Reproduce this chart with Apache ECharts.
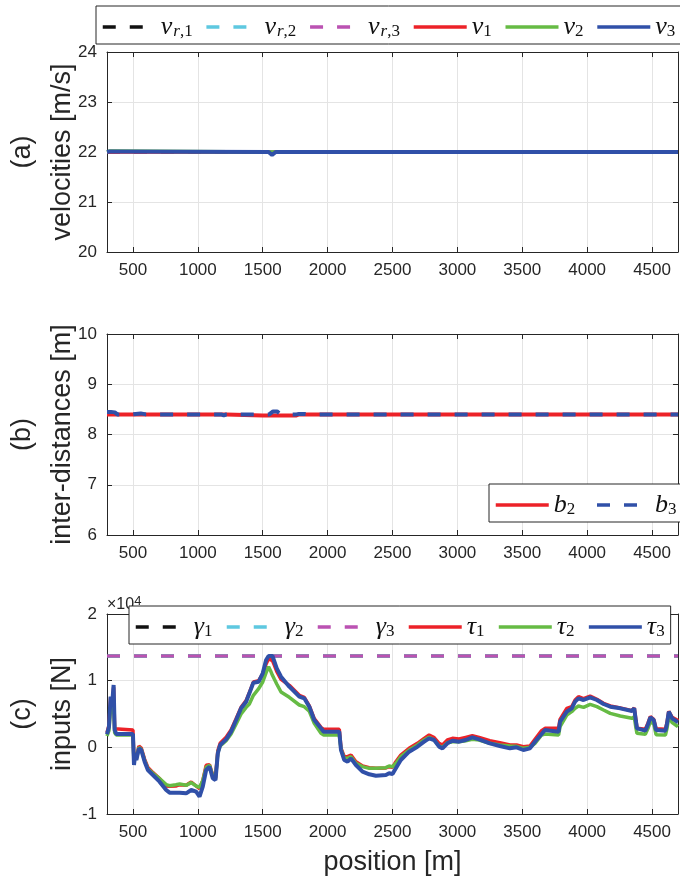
<!DOCTYPE html>
<html>
<head>
<meta charset="utf-8">
<script src="https://cdn.jsdelivr.net/npm/echarts@6.0.0/dist/echarts.min.js"></script>
<style>
  html, body { margin: 0; padding: 0; background: #fff; }
  #chart { width: 680px; height: 887px; }
</style>
</head>
<body>
<div id="chart"></div>
<script>
// ---- shared x range (position along the road, m) ----
const X_RANGE = [300, 4700];
const X_STEP = 500;

// ---- (a) velocities [m/s] ----
const posA = [300, 318, 330, 342, 355, 1545, 1560, 1572, 1585, 1600, 4700];
const vRef = [22, 22, 22];
const v1 = [22.0, 22.0, 22.01, 22.0, 22.0, 22.0, 21.99, 21.98, 21.99, 22.0, 22.0];
const v2 = [22.0, 22.02, 21.99, 22.02, 22.0, 22.0, 22.02, 22.0, 22.01, 22.0, 22.0];
const v3 = [22.0, 22.01, 21.99, 22.01, 22.0, 22.0, 21.97, 21.94, 21.97, 22.0, 22.0];

// ---- (b) inter-distances [m] ----
const posB = [300, 330, 360, 380, 500, 560, 600, 1180, 1200, 1220, 1500, 1550, 1580, 1610, 1640, 1760, 1780, 1820, 1850, 4700];
const b2 = [8.40, 8.40, 8.40, 8.40, 8.40, 8.40, 8.40, 8.40, 8.40, 8.40, 8.38, 8.38, 8.38, 8.38, 8.38, 8.38, 8.40, 8.40, 8.40, 8.40];
const b3 = [8.45, 8.45, 8.44, 8.40, 8.40, 8.42, 8.40, 8.40, 8.38, 8.40, 8.40, 8.40, 8.46, 8.46, 8.40, 8.40, 8.41, 8.41, 8.40, 8.40];

// ---- (c) inputs [N] ----
const gammaRef = [13700, 13700, 13700];
const posC = [
  300, 315, 328, 338, 351, 359, 372, 500, 508, 518, 526, 546, 564, 590, 615, 654, 705, 756, 782, 830,
  860, 910, 949, 987, 1013, 1038, 1064, 1090, 1115, 1136, 1154, 1172, 1218, 1256, 1295, 1333, 1372, 1397, 1428, 1469,
  1500, 1526, 1545, 1560, 1575, 1590, 1608, 1641, 1705, 1782, 1820, 1859, 1897, 1949, 1970, 2090, 2103, 2128, 2154, 2180,
  2218, 2269, 2321, 2372, 2449, 2474, 2500, 2526, 2564, 2628, 2692, 2744, 2782, 2821, 2859, 2885, 2923, 2962, 3013, 3064,
  3115, 3167, 3250, 3327, 3405, 3456, 3508, 3559, 3598, 3649, 3675, 3690, 3780, 3791, 3843, 3881, 3907, 3933, 3972, 4023,
  4075, 4126, 4178, 4255, 4345, 4363, 4375, 4384, 4448, 4470, 4487, 4513, 4531, 4603, 4615, 4629, 4655, 4693, 4700
];
const tau1 = [
  2200, 3300, 7500, 6000, 9000, 2800, 2600, 2600, -2200, -700, -1600, 200, -100, -1800, -3000, -3800, -4700, -5800, -5850, -5800,
  -5600, -5700, -5200, -5800, -6200, -5000, -2700, -2600, -4200, -4600, -500, 600, 1500, 2600, 4300, 6000, 7000, 8200, 9800, 10000,
  11000, 12500, 13300, 13400, 13000, 12300, 11400, 10200, 9300, 7800, 7500, 6200, 4300, 3000, 2700, 2700, -100, -1400, -1400, -1150,
  -2150, -2800, -3050, -3150, -3100, -2900, -3000, -2150, -1150, -150, 600, 1350, 1850, 1450, 600, 350, 1100, 1350, 1250, 1500,
  1750, 1500, 1000, 700, 350, 350, 100, 200, 1200, 2500, 2850, 2850, 2850, 4200, 5850, 6100, 7100, 7600, 7300, 7700,
  7200, 6600, 6200, 5900, 5500, 5900, 4200, 2850, 2700, 3700, 4600, 4200, 2800, 2700, 3700, 5400, 4500, 4100, 4000
];
const tau2 = [
  1700, 2500, 6100, 5000, 7200, 2200, 1850, 1850, -2500, -800, -1800, 0, -300, -2000, -3200, -3900, -4700, -5600, -5750, -5600,
  -5500, -5700, -5300, -5800, -6000, -5000, -3000, -2700, -4300, -4700, -800, 200, 1000, 2000, 3500, 5000, 6000, 6500, 7800, 8800,
  9800, 11200, 12100, 11500, 10800, 10200, 9500, 8300, 7500, 6350, 6100, 5400, 3600, 2100, 1850, 1850, -300, -1650, -1650, -1400,
  -2400, -2900, -3150, -3150, -3050, -2800, -2900, -2400, -1400, -400, 350, 1100, 1500, 1100, 200, 0, 700, 850, 850, 1000,
  1200, 1100, 600, 350, 200, 150, -150, 0, 600, 1850, 2000, 1850, 1850, 3100, 4850, 5350, 5850, 6200, 6000, 6450,
  6100, 5600, 5100, 4700, 4350, 4600, 3000, 2100, 1950, 2900, 3850, 3500, 1900, 1850, 2800, 4600, 3700, 3200, 3100
];
const tau3 = [
  1950, 3100, 7600, 6100, 9350, 2600, 2000, 2000, -2650, -900, -1900, -150, -400, -2150, -3400, -4150, -5150, -6400, -6800, -6800,
  -6800, -6900, -6400, -6650, -7400, -5900, -3400, -2900, -4650, -4900, -900, 350, 1200, 2350, 4100, 5850, 6850, 8100, 9700, 9850,
  11100, 13100, 13700, 13700, 13700, 13700, 11850, 10600, 9100, 7600, 7350, 6100, 4100, 2850, 2350, 2350, -400, -1900, -2150, -1650,
  -2650, -3650, -4050, -4250, -4150, -3900, -4000, -3150, -1900, -650, 100, 850, 1350, 1100, 100, -150, 600, 1000, 850, 1100,
  1500, 1200, 600, 200, -150, 0, -400, -150, 850, 2000, 2600, 2350, 2350, 3850, 5350, 5850, 6850, 7350, 7100, 7500,
  7100, 6500, 6100, 5850, 5450, 5850, 4000, 2850, 2500, 3500, 4500, 4100, 2600, 2500, 3500, 5350, 4350, 3850, 3800
];

// ---- styling ----
const INK = '#262626';
const GRID_LINE = '#e4e4e4';
const SANS = '"Liberation Sans", Arial, Helvetica, sans-serif';
const SERIF = '"Liberation Serif", "Times New Roman", serif';
const COL = {
  black: '#111111', cyan: '#5ec8e0', magenta: '#bb52b2',
  red: '#ec2228', green: '#66bb44', blue: '#3050a8'
};
const DASH = [13, 14];

const zip = (xs, ys) => xs.map((x, i) => [x, ys[i]]);
const flat = (y) => [[X_RANGE[0], y], [X_RANGE[1], y]];

// math-style legend labels: italic symbol with lowered subscript
const mathRich = {
  m: { fontFamily: SERIF, fontStyle: 'italic', fontSize: 26, lineHeight: 26, verticalAlign: 'middle', color: '#111' },
  si: { fontFamily: SERIF, fontStyle: 'italic', fontSize: 17, lineHeight: 17, verticalAlign: 'bottom', padding: [13, 0, 0, 1], color: '#111' },
  sn: { fontFamily: SERIF, fontSize: 17, lineHeight: 17, verticalAlign: 'bottom', padding: [13, 0, 0, 0], color: '#111' }
};
const mathLabel = {
  'vr1': '{m|v}{si|r}{sn|,1}', 'vr2': '{m|v}{si|r}{sn|,2}', 'vr3': '{m|v}{si|r}{sn|,3}',
  'v1': '{m|v}{sn|1}', 'v2': '{m|v}{sn|2}', 'v3': '{m|v}{sn|3}',
  'b2': '{m|b}{sn|2}', 'b3': '{m|b}{sn|3}',
  'g1': '{m|γ}{sn|1}', 'g2': '{m|γ}{sn|2}', 'g3': '{m|γ}{sn|3}',
  't1': '{m|τ}{sn|1}', 't2': '{m|τ}{sn|2}', 't3': '{m|τ}{sn|3}'
};

function legendBox(extra) {
  return Object.assign({
    orient: 'horizontal', width: 640,
    itemWidth: 53, itemHeight: 14, itemGap: 9,
    backgroundColor: '#ffffff', borderColor: INK, borderWidth: 1, borderRadius: 0,
    padding: [4, 6, 4, 5],
    selectedMode: false,
    itemStyle: { opacity: 0, borderWidth: 0 },
    lineStyle: { width: 3.5 },
    textStyle: { color: '#111', rich: mathRich },
    formatter: (n) => mathLabel[n]
  }, extra);
}

// ---- axes: each panel is a closed box with inward ticks on all four sides ----
const grids = [
  { left: 107, right: 2, top: 52, height: 200, outerBoundsMode: 'none' },
  { left: 107, right: 2, top: 334, height: 201, outerBoundsMode: 'none' },
  { left: 107, right: 2, top: 614, height: 200, outerBoundsMode: 'none' }
];
const tickStyle = { show: true, inside: true, length: 5, lineStyle: { color: INK, width: 1 } };
const lineStyleAxis = { show: true, onZero: false, lineStyle: { color: INK, width: 1 } };
const labelStyle = { color: INK, fontFamily: SANS, fontSize: 17, margin: 10 };

const xAxes = [], yAxes = [];
const yLimits = [
  { min: 20, max: 24, interval: 1, fmt: (v) => String(v), name: '(a)\nvelocities [m/s]' },
  { min: 6, max: 10, interval: 1, fmt: (v) => String(v), name: '(b)\ninter-distances [m]' },
  { min: -10000, max: 20000, interval: 10000, fmt: (v) => String(v / 10000), name: '(c)\ninputs [N]' }
];
grids.forEach((g, k) => {
  const common = { type: 'value', gridIndex: k, min: X_RANGE[0], max: X_RANGE[1], minInterval: X_STEP, maxInterval: X_STEP,
    axisLine: lineStyleAxis, axisTick: tickStyle };
  xAxes.push(Object.assign({}, common, {
    position: 'bottom',
    axisLabel: Object.assign({}, labelStyle, { showMinLabel: false, showMaxLabel: false, formatter: (v) => String(v) }),
    splitLine: { show: true, lineStyle: { color: GRID_LINE, width: 1 } },
    name: k === 2 ? 'position [m]' : '',
    nameLocation: 'middle', nameGap: 35, nameMoveOverlap: false,
    nameTextStyle: { color: INK, fontFamily: SANS, fontSize: 27 }
  }));
  xAxes.push(Object.assign({}, common, { position: 'top', axisLabel: { show: false }, splitLine: { show: false } }));
  const yl = yLimits[k];
  const yCommon = { type: 'value', gridIndex: k, min: yl.min, max: yl.max, interval: yl.interval,
    axisLine: lineStyleAxis, axisTick: tickStyle };
  yAxes.push(Object.assign({}, yCommon, {
    position: 'left',
    axisLabel: Object.assign({}, labelStyle, { formatter: yl.fmt }),
    splitLine: { show: true, lineStyle: { color: GRID_LINE, width: 1 } },
    name: yl.name, nameLocation: 'middle', nameGap: 24, nameMoveOverlap: false,
    nameTextStyle: { color: INK, fontFamily: SANS, fontSize: 27, lineHeight: 40 }
  }));
  yAxes.push(Object.assign({}, yCommon, { position: 'right', axisLabel: { show: false }, splitLine: { show: false } }));
});

function line(name, k, data, color, width, dashed) {
  return {
    name, type: 'line', xAxisIndex: 2 * k, yAxisIndex: 2 * k, data,
    symbol: 'none', silent: true,
    lineStyle: { color, width, type: dashed ? DASH : 'solid', cap: 'butt' },
    itemStyle: { color }
  };
}

const series = [
  // (a)
  line('vr1', 0, flat(vRef[0]), COL.black, 3, true),
  line('vr2', 0, flat(vRef[1]), COL.cyan, 3, true),
  line('vr3', 0, flat(vRef[2]), COL.magenta, 3, true),
  line('v1', 0, zip(posA, v1), COL.red, 3.5),
  line('v2', 0, zip(posA, v2), COL.green, 3.5),
  line('v3', 0, zip(posA, v3), COL.blue, 4),
  // (b)
  line('b2', 1, zip(posB, b2), COL.red, 4),
  line('b3', 1, zip(posB, b3), COL.blue, 4, true),
  // (c)
  line('g1', 2, flat(gammaRef[0]), COL.black, 3, true),
  line('g2', 2, flat(gammaRef[1]), COL.cyan, 3, true),
  line('g3', 2, flat(gammaRef[2]), COL.magenta, 3, true),
  line('t1', 2, zip(posC, tau1), COL.red, 3.5),
  line('t2', 2, zip(posC, tau2), COL.green, 3.5),
  line('t3', 2, zip(posC, tau3), COL.blue, 4)
];

const chart = echarts.init(document.getElementById('chart'), null, { renderer: 'canvas' });
chart.setOption({
  animation: false,
  backgroundColor: '#ffffff',
  grid: grids,
  xAxis: xAxes,
  yAxis: yAxes,
  legend: [
    legendBox({ left: 96, top: 6, itemGap: 12, data: ['vr1', 'vr2', 'vr3', 'v1', 'v2', 'v3'] }),
    legendBox({ left: 489, top: 484, itemGap: 20, data: ['b2', 'b3'] }),
    legendBox({ left: 129, top: 606, itemGap: 12.5, data: ['g1', 'g2', 'g3', 't1', 't2', 't3'] })
  ],
  graphic: [{
    type: 'text', left: 107, top: 595, z: 1,
    style: {
      text: '×10{sup|4}', fill: INK, font: '16px ' + SANS,
      rich: { sup: { fontSize: 13, verticalAlign: 'top', padding: [0, 0, 6, 0], fill: INK } }
    }
  }],
  series
});
</script>
</body>
</html>
